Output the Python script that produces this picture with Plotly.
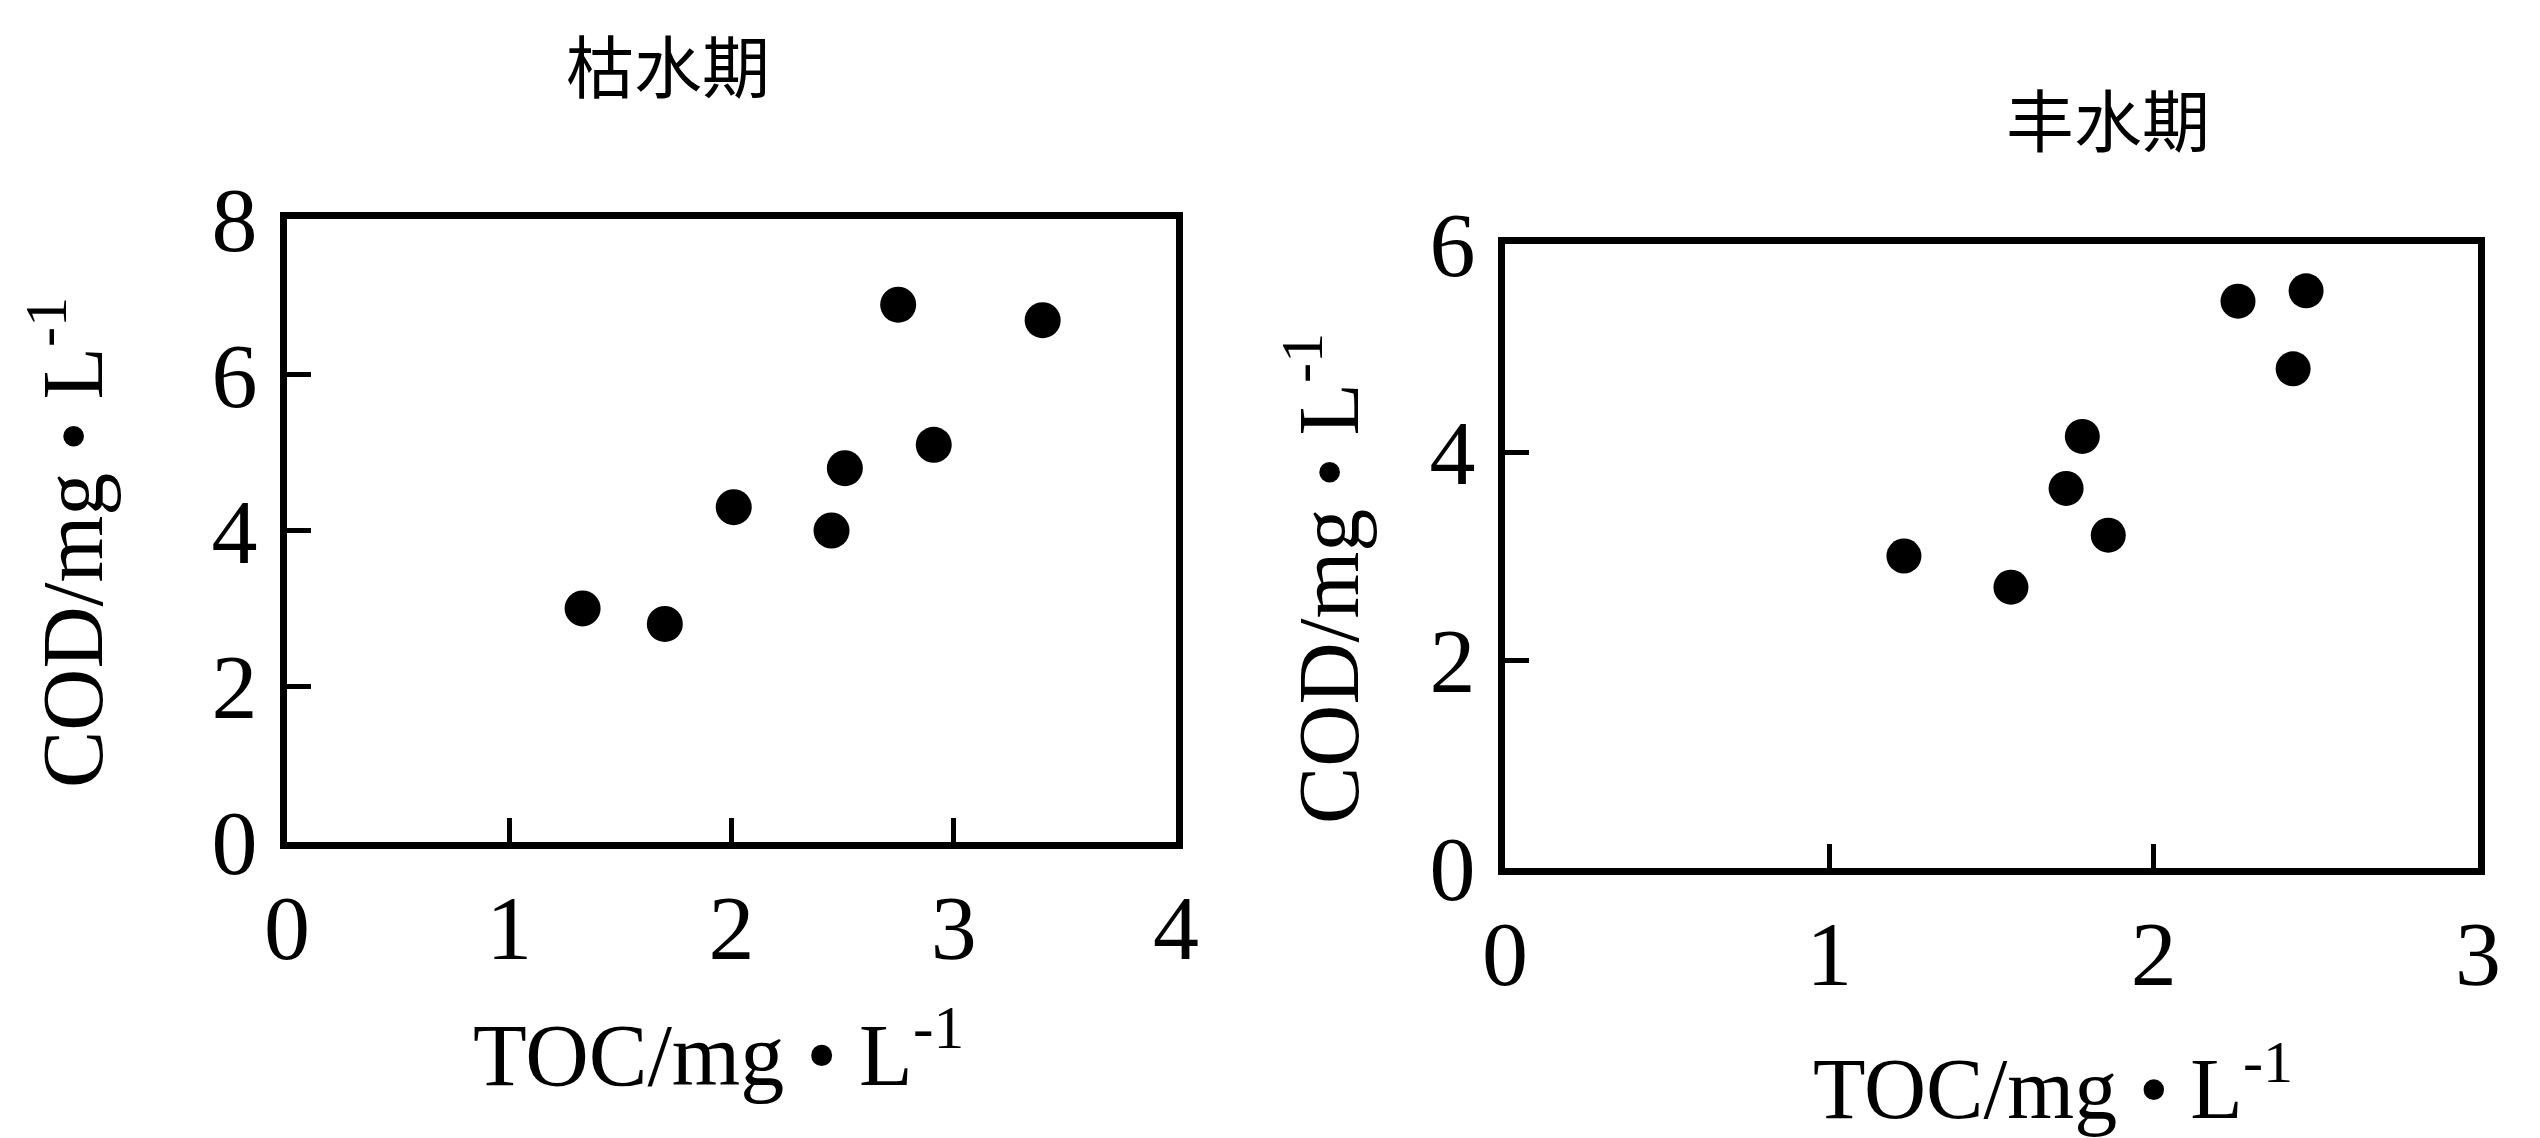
import plotly.graph_objects as go

# 枯水期 (dry season)
dry_toc = [1.33, 1.70, 2.01, 2.45, 2.51, 2.91, 2.75, 3.40]
dry_cod = [3.0, 2.8, 4.3, 4.0, 4.8, 5.1, 6.9, 6.7]
# 丰水期 (wet season)
wet_toc = [1.23, 1.56, 1.73, 1.78, 1.86, 2.26, 2.47, 2.43]
wet_cod = [3.0, 2.7, 3.65, 4.15, 3.2, 5.45, 5.55, 4.8]

left_xticks = [0, 1, 2, 3, 4]
left_yticks = [0, 2, 4, 6, 8]
right_xticks = [0, 1, 2, 3]
right_yticks = [0, 2, 4, 6]

W, H = 2540, 1138
SERIF = "Liberation Serif, Times New Roman, serif"
CJK = "Noto Sans CJK SC"

def px(x):
    return x / W

def py(y):
    return 1 - y / H

fig = go.Figure()
fig.add_trace(go.Scatter(x=dry_toc, y=dry_cod, mode="markers", xaxis="x", yaxis="y",
                         marker=dict(color="black", size=36), showlegend=False))
fig.add_trace(go.Scatter(x=wet_toc, y=wet_cod, mode="markers", xaxis="x2", yaxis="y2",
                         marker=dict(color="black", size=35), showlegend=False))

axis_common = dict(showgrid=False, zeroline=False, showline=True, linecolor="black",
                   linewidth=7, mirror=True, ticks="inside", ticklen=24, tickwidth=5,
                   tickcolor="black", automargin=False,
                   tickfont=dict(family=SERIF, size=92, color="black"))

fig.update_layout(
    width=W, height=H,
    margin=dict(l=0, r=0, t=0, b=0, autoexpand=False),
    paper_bgcolor="white", plot_bgcolor="white",
    xaxis=dict(domain=[px(279), px(1168)], range=[0, 4], tickvals=left_xticks,
               anchor="y", ticklabelstandoff=0, **axis_common),
    yaxis=dict(domain=[py(834), py(211)], range=[0, 8], tickvals=left_yticks,
               anchor="x", ticklabelstandoff=4, **axis_common),
    xaxis2=dict(domain=[px(1497), px(2470)], range=[0, 3], tickvals=right_xticks,
                anchor="y2", ticklabelstandoff=0, **axis_common),
    yaxis2=dict(domain=[py(860), py(236)], range=[0, 6], tickvals=right_yticks,
                anchor="x2", ticklabelstandoff=4, **axis_common),
)

ann = [
    dict(text="枯水期", x=px(660), y=py(56), font=dict(family=CJK, size=68, color="black")),
    dict(text="丰水期", x=px(2100), y=py(109), font=dict(family=CJK, size=68, color="black")),
    dict(text="TOC/mg • L<sup>-1</sup>", x=px(710), y=py(1040),
         font=dict(family=SERIF, size=88, color="black")),
    dict(text="TOC/mg • L<sup>-1</sup>", x=px(2045), y=py(1074),
         font=dict(family=SERIF, size=86, color="black")),
    dict(text="COD/mg • L<sup>-1</sup>", x=px(58), y=py(535), textangle=-90,
         font=dict(family=SERIF, size=86, color="black")),
    dict(text="COD/mg • L<sup>-1</sup>", x=px(1314), y=py(571), textangle=-90,
         font=dict(family=SERIF, size=86, color="black")),
]
for a in ann:
    a.update(xref="paper", yref="paper", showarrow=False, xanchor="center", yanchor="middle")
fig.update_layout(annotations=ann)

fig.write_html("out.html")
